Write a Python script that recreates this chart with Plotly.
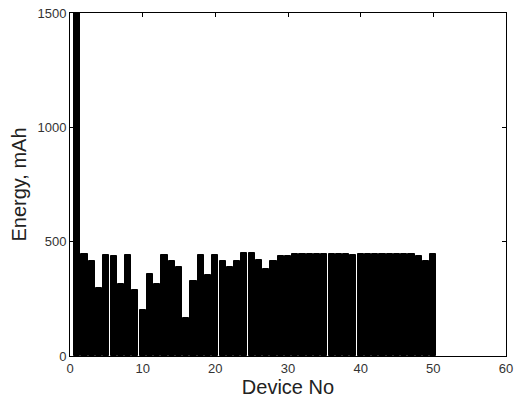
import plotly.graph_objects as go

device_no = list(range(1, 51))
energy_mah = [
    1500, 446, 417, 296, 443, 438, 317, 443, 288, 200,
    359, 317, 443, 417, 388, 168, 326, 443, 355, 443,
    414, 388, 417, 449, 449, 420, 380, 414, 436, 436,
    446, 447, 446, 446, 447, 446, 447, 446, 440, 446,
    446, 446, 446, 447, 447, 447, 447, 437, 417, 446,
]

x_ticks = [0, 10, 20, 30, 40, 50, 60]
y_ticks = [0, 500, 1000, 1500]

fig = go.Figure(
    go.Bar(
        x=device_no,
        y=energy_mah,
        width=0.84,
        marker=dict(color="black", line=dict(color="black", width=1)),
    )
)

axis_common = dict(
    showline=True,
    linecolor="black",
    linewidth=1,
    mirror="ticks",
    ticks="inside",
    ticklen=4,
    tickcolor="black",
    showgrid=False,
    zeroline=False,
    automargin=False,
    tickfont=dict(family="Liberation Sans", size=13, color="#333"),
)

fig.update_layout(
    width=519,
    height=401,
    margin=dict(l=70, r=13, t=13, b=45),
    paper_bgcolor="white",
    plot_bgcolor="white",
    showlegend=False,
    bargap=0,
    xaxis=dict(
        range=[0, 60],
        tickvals=x_ticks,
        title=dict(text="Device No", font=dict(family="Liberation Sans", size=20, color="#222"), standoff=5),
        **axis_common,
    ),
    yaxis=dict(
        range=[0, 1500],
        tickvals=y_ticks,
        title=dict(text="Energy, mAh", font=dict(family="Liberation Sans", size=20, color="#222"), standoff=5),
        **axis_common,
    ),
)

fig.write_html(
    "out.html",
    config={"displayModeBar": False},
    post_script="document.body.style.margin='0';document.body.style.padding='0';",
)
